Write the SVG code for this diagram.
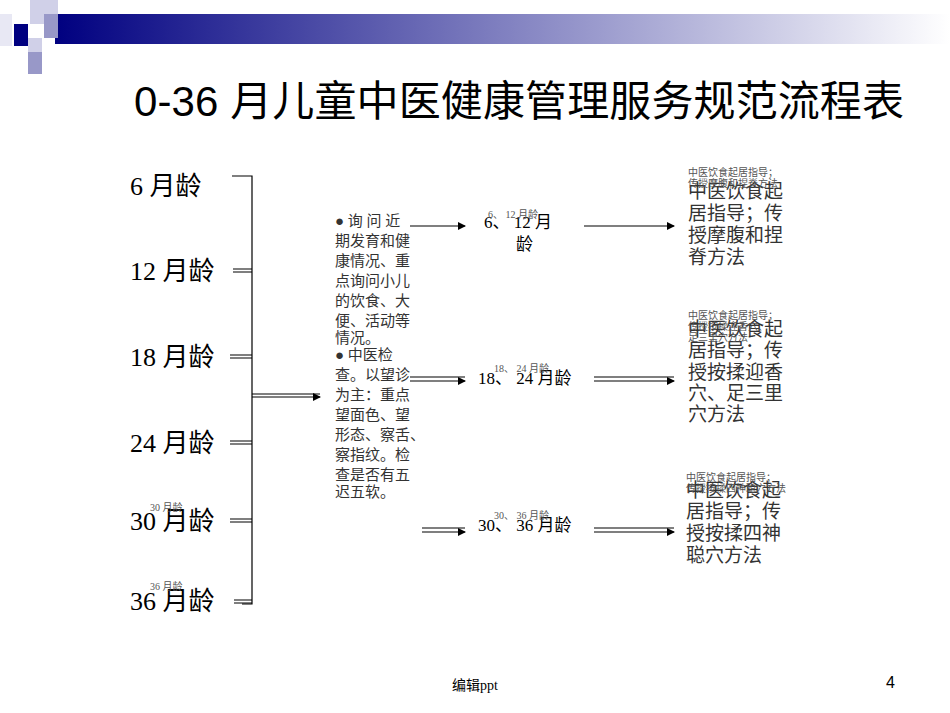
<svg xmlns="http://www.w3.org/2000/svg" width="950" height="713" viewBox="0 0 950 713">
<defs>
<linearGradient id="bar" x1="0" x2="1" y1="0" y2="0"><stop offset="0" stop-color="#000080"/><stop offset="0.5" stop-color="#8080c0"/><stop offset="1" stop-color="#ffffff"/></linearGradient>
<marker id="ah" markerWidth="8" markerHeight="8" refX="7" refY="4" orient="auto" markerUnits="userSpaceOnUse"><path d="M0,0 L8,4 L0,8 z" fill="#000"/></marker>
<style>
.t{font-family:"Liberation Serif","Noto Sans CJK SC",serif;fill:#000}
.age{font-size:26px}
.mid{font-size:15px;fill:#333}
.rt{font-size:19px;fill:#333}
.sm{font-size:10px;fill:#555}
.ln{stroke:#000;stroke-width:1.2;fill:none}
</style>
</defs>
<rect x="55" y="14" width="895" height="30" fill="url(#bar)"/>
<rect x="14" y="24" width="14" height="22" fill="#000080"/>
<rect x="30" y="0" width="14" height="24" fill="#d0d0e8"/>
<rect x="44" y="0" width="14" height="14" fill="#d0d0e8"/>
<rect x="44" y="14" width="14" height="24" fill="#9898c8"/>
<rect x="28" y="52" width="14" height="22" fill="#9898c8"/>
<rect x="28" y="38" width="14" height="14" fill="#d0d0e8"/>
<rect x="0" y="14" width="12" height="32" fill="#e8e8f4"/>
<text x="519" y="116" text-anchor="middle" font-family="Liberation Sans,Noto Sans CJK SC,sans-serif" font-size="42" textLength="770" fill="#000">0-36 月儿童中医健康管理服务规范流程表</text>
<g id="ages" class="t age">
<text x="130" y="195">6 月龄</text>
<text x="130" y="280">12 月龄</text>
<text x="130" y="366">18 月龄</text>
<text x="130" y="452">24 月龄</text>
<text x="130" y="530">30 月龄</text>
<text x="130" y="610">36 月龄</text>
<text x="150" y="511" class="sm" font-size="12">30 月龄</text>
<text x="150" y="590" class="sm" font-size="12">36 月龄</text>
</g>
<g id="connectors">
<path class="ln" d="M232,176 H252 V604 H242"/>
<path class="ln" d="M233,269 H252 M233,272 H252"/>
<path class="ln" d="M230,355 H252 M230,358 H252"/>
<path class="ln" d="M230,441 H252 M230,444 H252"/>
<path class="ln" d="M230,519 H252 M230,522 H252"/>
<path class="ln" d="M234,600 H252 M234,603 H252"/>
<path class="ln" d="M252,394 H320 M252,397 H320" marker-end="url(#ah)"/>
<path class="ln" stroke-width="2" d="M410,226 H465" marker-end="url(#ah)"/>
<path class="ln" d="M410,377 H465 M410,381 H465" marker-end="url(#ah)"/>
<path class="ln" d="M422,528 H465 M422,532 H465" marker-end="url(#ah)"/>
<path class="ln" stroke-width="2" d="M584,226 H674" marker-end="url(#ah)"/>
<path class="ln" d="M594,377 H674 M594,381 H674" marker-end="url(#ah)"/>
<path class="ln" d="M594,528 H674 M594,532 H674" marker-end="url(#ah)"/>
</g>
<g id="mid" class="t mid">
<text x="335" y="226">● 询 问 近</text>
<text x="335" y="246">期发育和健</text>
<text x="335" y="266">康情况、重</text>
<text x="335" y="286">点询问小儿</text>
<text x="335" y="306">的饮食、大</text>
<text x="335" y="326">便、活动等</text>
<text x="335" y="343">情况。</text>
<text x="335" y="360">● 中医检</text>
<text x="335" y="380">查。以望诊</text>
<text x="335" y="400">为主：重点</text>
<text x="335" y="420">望面色、望</text>
<text x="335" y="440">形态、察舌、</text>
<text x="335" y="460">察指纹。检</text>
<text x="335" y="480">查是否有五</text>
<text x="335" y="497">迟五软。</text>
</g>
<g id="n1" class="t">
<text x="484" y="228" font-size="17">6、 12 月</text>
<text x="516" y="250" font-size="17">龄</text>
<text x="488" y="218" class="sm">6、 12 月龄</text>
</g>
<g id="n2" class="t">
<text x="478" y="384" font-size="17">18、 24 月龄</text>
<text x="494" y="372" class="sm">18、 24 月龄</text>
</g>
<g id="n3" class="t">
<text x="478" y="531" font-size="17">30、 36 月龄</text>
<text x="494" y="519" class="sm">30、 36 月龄</text>
</g>
<g id="r1" class="t rt">
<text x="688" y="198">中医饮食起</text>
<text x="688" y="220">居指导；传</text>
<text x="688" y="242">授摩腹和捏</text>
<text x="688" y="264">脊方法</text>
<text x="688" y="176" class="sm">中医饮食起居指导；</text>
<text x="688" y="187" class="sm">传授摩腹和捏脊方法</text>
</g>
<g id="r2" class="t rt">
<text x="688" y="336">中医饮食起</text>
<text x="688" y="357">居指导；传</text>
<text x="688" y="379">授按揉迎香</text>
<text x="688" y="400">穴、足三里</text>
<text x="688" y="421">穴方法</text>
<text x="688" y="319" class="sm">中医饮食起居指导；</text>
<text x="688" y="330" class="sm">传授按揉迎香穴、</text>
<text x="688" y="341" class="sm">足三里穴方法</text>
</g>
<g id="r3" class="t rt">
<text x="686" y="497">中医饮食起</text>
<text x="686" y="518">居指导；传</text>
<text x="686" y="540">授按揉四神</text>
<text x="686" y="562">聪穴方法</text>
<text x="686" y="481" class="sm">中医饮食起居指导；</text>
<text x="686" y="492" class="sm">传授按揉四神聪穴方法</text>
</g>
<text x="475" y="690" text-anchor="middle" class="t" font-size="14">编辑ppt</text>
<text x="886" y="688" font-family="Liberation Sans,sans-serif" font-size="16">4</text>
</svg>
